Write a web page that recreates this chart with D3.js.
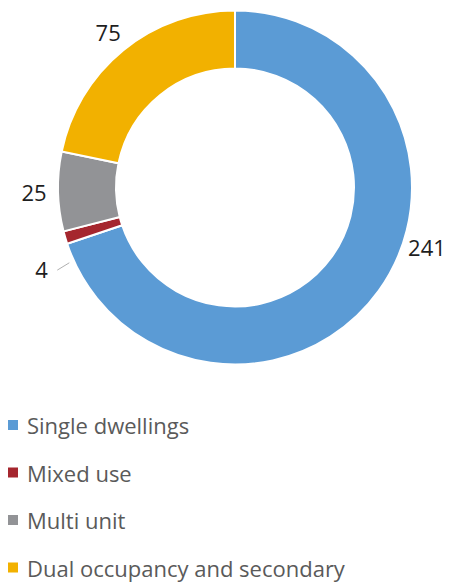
<!DOCTYPE html>
<html>
<head>
<meta charset="utf-8">
<script src="https://cdn.jsdelivr.net/npm/d3@7"></script>
<style>
  html, body { margin: 0; padding: 0; background: #fff; }
  svg { display: block; }
</style>
</head>
<body>
<svg id="chart" width="450" height="582"></svg>
<script>
// Dwelling types and their counts
const categories = ["Single dwellings", "Mixed use", "Multi unit", "Dual occupancy and secondary"];
const values = [241, 4, 25, 75];
const colors = ["#5B9BD5", "#A5262E", "#929396", "#F2B100"];

const svg = d3.select("#chart");
const cx = 235, cy = 187.5;
const outerR = 177, innerR = 119;

const pie = d3.pie().sort(null).value(d => d.value);
const arcs = pie(categories.map((c, i) => ({ name: c, value: values[i], color: colors[i] })));

const arc = d3.arc().innerRadius(innerR).outerRadius(outerR);

const g = svg.append("g").attr("transform", `translate(${cx},${cy})`);

g.selectAll("path.slice")
  .data(arcs)
  .join("path")
  .attr("class", "slice")
  .attr("d", arc)
  .attr("fill", d => d.data.color)
  .attr("stroke", "#fff")
  .attr("stroke-width", 2)
  .attr("stroke-linejoin", "miter");

// Value labels sit outside the ring; a few are nudged along the circle
const labelNudge = { "Single dwellings": -18.5, "Mixed use": -6.5 };
const labelR = 201;
function polar(r, a) { return [r * Math.sin(a), -r * Math.cos(a)]; }

arcs.forEach(d => {
  const mid = (d.startAngle + d.endAngle) / 2;
  const a = mid + ((labelNudge[d.data.name] || 0) * Math.PI / 180);
  const r = d.data.name === "Mixed use" ? 210 : labelR;
  const [x, y] = polar(r, a);
  g.append("text")
    .attr("x", x)
    .attr("y", y)
    .attr("text-anchor", "middle")
    .attr("dominant-baseline", "central")
    .attr("font-family", "'Open Sans', sans-serif")
    .attr("font-size", 22)
    .attr("font-weight", 500)
    .attr("fill", "#1e1e1e")
    .text(d.data.value);
  if (d.data.name === "Mixed use") {
    const la = (mid - 8 * Math.PI / 180);
    const p1 = polar(outerR + 5, la), p2 = polar(outerR + 19, la - 0.5 * Math.PI / 180);
    g.append("line")
      .attr("x1", p1[0]).attr("y1", p1[1])
      .attr("x2", p2[0]).attr("y2", p2[1])
      .attr("stroke", "#b0b0b0")
      .attr("stroke-width", 1);
  }
});

// Legend
const legend = svg.append("g").attr("transform", "translate(8,425)");
const rowH = 47.5;
const items = legend.selectAll("g")
  .data(arcs)
  .join("g")
  .attr("transform", (d, i) => `translate(0,${i * rowH})`);
items.append("rect")
  .attr("x", 0).attr("y", -5)
  .attr("width", 10).attr("height", 10)
  .attr("fill", d => d.data.color);
items.append("text")
  .attr("x", 19)
  .attr("y", 0)
  .attr("dominant-baseline", "central")
  .attr("font-family", "'Open Sans', sans-serif")
  .attr("font-size", 22)
  .attr("fill", "#5a5a5a")
  .text(d => d.data.name);
</script>
</body>
</html>
